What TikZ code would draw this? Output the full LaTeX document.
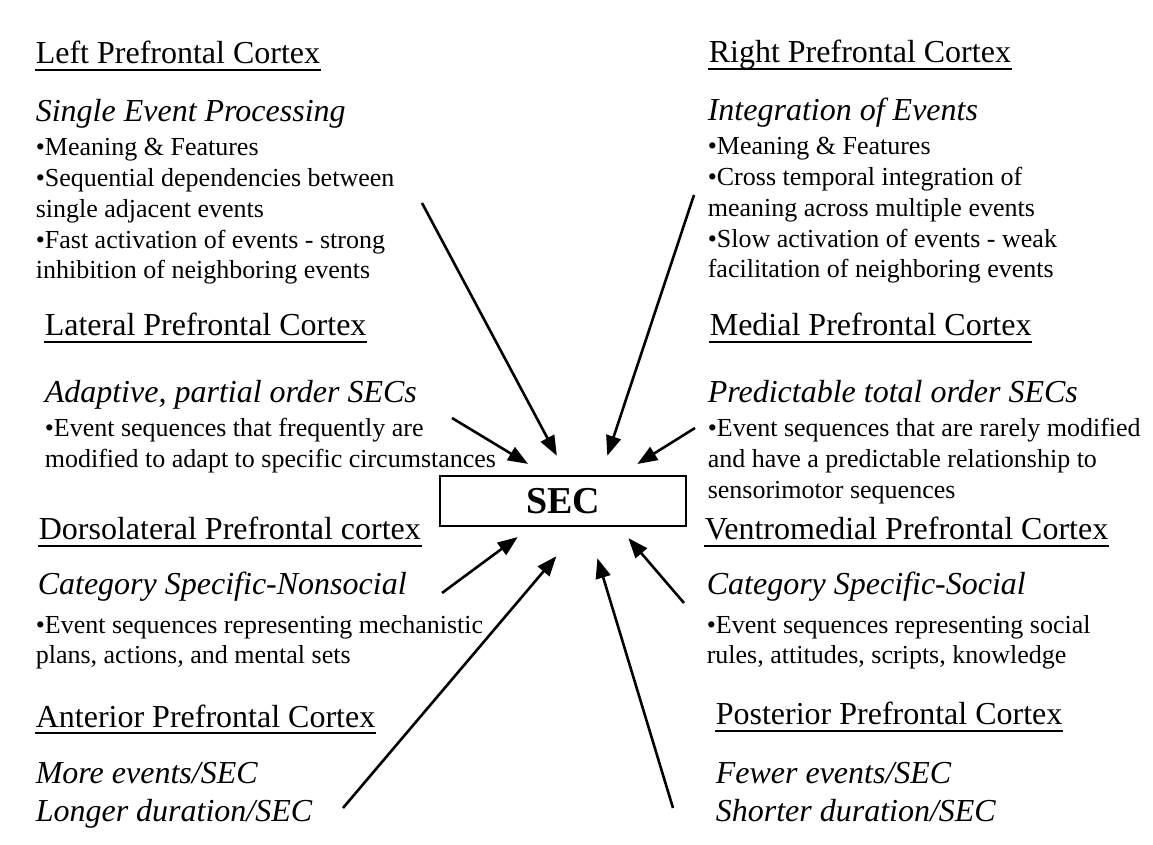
\documentclass[tikz,border=0pt]{standalone}
\usepackage{fontspec}
\setmainfont{Liberation Serif}
\usepackage{tikz}
\usetikzlibrary{arrows,arrows.meta}
\usetikzlibrary{calc,positioning}

% lines of a block, aligned on the baseline of the first one
\newcommand{\blocklines}[1]{\begin{tabular}[t]{@{}l@{}}#1\end{tabular}}

\begin{document}
\begin{tikzpicture}[x=0.5pt,y=-0.5pt,thick,>={Triangle[length=10pt,width=7.5pt]}]
    \tikzstyle{head}=[anchor=base west, inner sep=0pt, font=\fontsize{16}{18}\selectfont]
    \tikzstyle{sub}=[anchor=base west, inner sep=0pt, font=\fontsize{16}{19.5}\selectfont\itshape]
    \tikzstyle{item}=[anchor=base west, inner sep=0pt, font=\fontsize{13}{15.35}\selectfont]
    \tikzstyle{secbox}=[draw, line width=1.2pt, minimum width=123pt, minimum height=25pt, inner sep=0pt, font=\fontsize{19}{22}\selectfont\bfseries]
    \tikzstyle{feed}=[->, line width=1.3pt]

    \useasboundingbox (0,0) rectangle (1153,845);

    \node[secbox] (sec) at (563,501) {SEC};

    % left column
    \node[head] (lpfc) at (35,64) {Left Prefrontal Cortex};
    \node[sub]  (lpfc-sub) at (35,122) {Single Event Processing};
    \node[item] (lpfc-list) at (35,156) {\blocklines{•Meaning \& Features\\
      •Sequential dependencies between\\ single adjacent events\\
      •Fast activation of events - strong\\ inhibition of neighboring events}};

    \node[head] (lat) at (44,336) {Lateral Prefrontal Cortex};
    \node[sub]  (lat-sub) at (44,403) {Adaptive, partial order SECs};
    \node[item] (lat-list) at (44,437) {\blocklines{•Event sequences that frequently are\\
      modified to adapt to specific circumstances}};

    \node[head] (dl) at (38,540) {Dorsolateral Prefrontal cortex};
    \node[sub]  (dl-sub) at (37,595) {Category Specific-Nonsocial};
    \node[item] (dl-list) at (35,633) {\blocklines{•Event sequences representing mechanistic\\
      plans, actions, and mental sets}};

    \node[head] (ant) at (35,727) {Anterior Prefrontal Cortex};
    \node[sub]  (ant-sub) at (35,783) {\blocklines{More events/SEC\\ Longer duration/SEC}};

    % right column
    \node[head] (rpfc) at (708,63) {Right Prefrontal Cortex};
    \node[sub]  (rpfc-sub) at (707,121) {Integration of Events};
    \node[item] (rpfc-list) at (707,155) {\blocklines{•Meaning \& Features\\
      •Cross temporal integration of\\ meaning across multiple events\\
      •Slow activation of events - weak\\ facilitation of neighboring events}};

    \node[head] (med) at (709,336) {Medial Prefrontal Cortex};
    \node[sub]  (med-sub) at (707,403) {Predictable total order SECs};
    \node[item] (med-list) at (707,437) {\blocklines{•Event sequences that are rarely modified\\
      and have a predictable relationship to\\ sensorimotor sequences}};

    \node[head] (vm) at (704,540) {Ventromedial Prefrontal Cortex};
    \node[sub]  (vm-sub) at (706,595) {Category Specific-Social};
    \node[item] (vm-list) at (706,633) {\blocklines{•Event sequences representing social\\
      rules, attitudes, scripts, knowledge}};

    \node[head] (post) at (715,725) {Posterior Prefrontal Cortex};
    \node[sub]  (post-sub) at (715,783) {\blocklines{Fewer events/SEC\\ Shorter duration/SEC}};

    % underlines
    \foreach \h in {lpfc,lat,dl,ant,rpfc,med,vm,post}
      \draw[line width=1pt] ([yshift=-3pt]\h.base west) -- ([yshift=-3pt]\h.base east);

    % arrows into SEC
    \coordinate (lpfc-from) at (422,203);
    \coordinate (rpfc-from) at (694,195);
    \coordinate (lat-from)  at (452,418);
    \coordinate (med-from)  at (695,428);
    \coordinate (dl-from)   at (442,593);
    \coordinate (vm-from)   at (684,603);
    \coordinate (ant-from)  at (343,808);
    \coordinate (post-from) at (673,808);

    \draw[feed, shorten >=10.8pt] (lpfc-from) -- ([xshift=2pt]sec.north);
    \draw[feed, shorten >=10pt]   (rpfc-from) -- ([xshift=19pt]sec.north);
    \draw[feed, shorten >=10.5pt] (lat-from) -- ([xshift=-8.5pt]sec.north);
    \draw[feed, shorten >=10.2pt] (med-from) -- ([xshift=28.5pt]sec.north);
    \draw[feed, shorten >=8.3pt]  (dl-from) -- ([xshift=-16pt]sec.south);
    \draw[feed, shorten >=7.2pt]  (vm-from) -- ([xshift=28pt]sec.south);
    \draw[feed, shorten >=19pt]   (ant-from) -- ([xshift=9pt]sec.south);
    \draw[feed, shorten >=16.2pt] (post-from) -- ([xshift=12.5pt]sec.south);

  \end{tikzpicture}
\end{document}
